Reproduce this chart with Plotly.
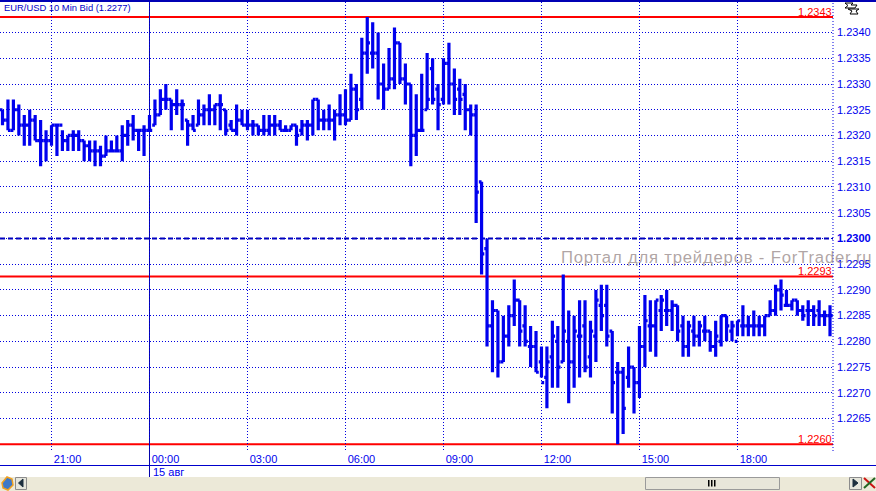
import plotly.graph_objects as go
from datetime import datetime, timedelta

BASE = 1.2300  # all bar values below are points (0.0001) relative to this price
START = datetime(2005, 8, 14, 19, 30)
STEP_MIN = 10

opens = [25,23,21,25,22,22,23,19,19,19,22,22,19,20,20,19,18,17,17,16,17,17,17,20,22,21,21,21,22,24,27,27,26,26,23,22,22,24,25,25,26,25,22,21,23,22,22,22,21,21,22,22,21,21,22,
         21,22,22,27,23,23,23,24,24,23,29,27,36,36,36,30,29,31,38,31,30,20,21,25,33,29,27,34,30,29,28,25,24,11,-2,
         -17,-14,-24,-19,-15,-12,-17,-21,-21,-24,-27,-23,-20,-24,-20,-24,-19,-17,-23,-19,-13,-13,-18,-26,-26,-27,-25,-28,-21,-17,-17,-14,-14,
         -14,-13,-17,-21,-18,-19,-18,-18,-21,-20,-15,-18,-20,-17,-17,-17,-17,-17,-15,-14,-10,-13,-13,-12,-14,-14,-14,-14,-15,-15]
highs = [25,27,27,26,24,25,24,23,21,22,22,21,20,21,21,19,19,19,18,20,19,20,22,23,24,21,22,24,27,29,30,27,29,27,23,24,27,26,28,26,28,25,23,26,25,25,23,22,24,24,24,23,22,22,22,
         23,23,27,27,25,26,25,28,29,32,30,39,43,42,40,34,37,41,38,34,30,28,32,36,35,30,35,38,33,31,30,26,26,11,0,
         -12,-14,-15,-13,-8,-12,-13,-17,-18,-21,-21,-16,-17,-7,-14,-15,-12,-12,-16,-10,-9,-9,-18,-24,-25,-21,-25,-17,-11,-12,-12,-11,-10,
         -12,-13,-15,-16,-15,-16,-15,-18,-16,-15,-15,-16,-16,-13,-15,-14,-15,-15,-12,-9,-8,-10,-12,-12,-13,-12,-13,-12,-14,-13]
lows = [22,21,21,20,18,18,19,14,15,18,16,17,17,17,17,15,15,14,14,16,17,17,15,18,19,17,16,21,22,24,25,21,24,21,18,21,22,22,22,22,21,20,21,20,22,21,20,20,20,20,20,21,21,21,18,
        20,19,20,21,21,21,19,22,22,23,23,25,32,33,27,25,29,29,30,26,14,16,21,25,26,21,26,26,24,24,21,20,3,-7,-21,
        -26,-27,-24,-21,-17,-21,-21,-25,-26,-27,-33,-29,-29,-24,-32,-29,-27,-26,-27,-24,-18,-21,-34,-40,-38,-29,-34,-31,-25,-22,-23,-18,-17,
        -18,-20,-23,-23,-21,-21,-20,-22,-23,-21,-20,-20,-19,-19,-19,-19,-19,-19,-15,-15,-14,-13,-14,-15,-16,-17,-17,-17,-17,-19]
closes = [23,21,25,22,22,23,19,19,19,22,22,19,20,20,19,18,17,17,16,17,17,17,20,22,21,21,21,21,24,27,27,26,26,26,22,21,24,25,25,26,26,21,21,23,22,22,22,21,21,22,22,21,21,22,20,
          22,22,27,23,23,23,24,24,23,29,25,36,38,36,30,29,31,38,31,30,20,21,21,27,27,26,34,30,27,27,25,24,9,-3,-17,
          -14,-24,-19,-15,-12,-18,-20,-21,-26,-28,-24,-19,-25,-18,-24,-18,-19,-25,-18,-12,-15,-19,-28,-26,-33,-25,-28,-21,-16,-17,-12,-12,-14,
          -13,-18,-21,-17,-19,-17,-18,-21,-19,-15,-17,-17,-16,-17,-17,-17,-17,-15,-14,-10,-11,-13,-12,-14,-15,-14,-15,-15,-15,-15]

y_ticks = [1.2340,1.2335,1.2330,1.2325,1.2320,1.2315,1.2310,1.2305,1.2300,1.2295,1.2290,1.2285,1.2280,1.2275,1.2270,1.2265]
y_labels = ["1.2340","1.2335","1.2330","1.2325","1.2320","1.2315","1.2310","1.2305","<b>1.2300</b>","1.2295","1.2290","1.2285","1.2280","1.2275","1.2270","1.2265"]
x_ticks = ["2005-08-14 21:00","2005-08-15 00:00","2005-08-15 03:00","2005-08-15 06:00","2005-08-15 09:00","2005-08-15 12:00","2005-08-15 15:00","2005-08-15 18:00"]
x_labels = ["21:00","00:00","03:00","06:00","09:00","12:00","15:00","18:00"]
levels = [(1.2343, "1.2343"), (1.22926, "1.2293"), (1.2260, "1.2260")]

W, H = 876, 491
L, R, T, B = 0, 43, 2, 40
FONT = "Liberation Sans"
BLUE = "#0000EE"
GRID = "#0000E0"
DOTS = "1px,2px"

times = [START + timedelta(minutes=STEP_MIN * i) for i in range(len(opens))]
px = lambda p: BASE + p / 10000

def xp(x):
    return (x - L) / (W - L - R)
def yp(y):
    return (H - B - y) / (H - T - B)

fig = go.Figure(go.Ohlc(
    x=times, open=[px(v) for v in opens], high=[px(v) for v in highs],
    low=[px(v) for v in lows], close=[px(v) for v in closes],
    tickwidth=0.5,
    increasing=dict(line=dict(color=BLUE, width=3.2)),
    decreasing=dict(line=dict(color=BLUE, width=3.2)),
    hoverinfo="skip", showlegend=False,
))

shapes = []
def rect(x0, y0, x1, y1, fill, line=None, lw=1):
    shapes.append(dict(type="rect", xref="paper", yref="paper", x0=xp(x0), x1=xp(x1), y0=yp(y0), y1=yp(y1),
                       fillcolor=fill, line=dict(color=line or fill, width=lw if line else 0), layer="above"))
def path(points, fill=None, line="#000000", lw=1):
    d = "M " + " L ".join(f"{xp(a):.5f},{yp(b):.5f}" for a, b in points) + (" Z" if fill else "")
    shapes.append(dict(type="path", xref="paper", yref="paper", path=d, fillcolor=fill or "rgba(0,0,0,0)",
                       line=dict(color=line, width=lw), layer="above"))

# price levels
for v, _ in levels:
    shapes.append(dict(type="line", xref="paper", yref="y", x0=0, x1=1, y0=v, y1=v,
                       line=dict(color="#FF0000", width=2), layer="below"))
shapes.append(dict(type="line", xref="paper", yref="y", x0=0, x1=1, y0=1.2300, y1=1.2300,
                   line=dict(color="#0000B4", width=2, dash="5px,3px"), layer="below"))
# day separator
shapes.append(dict(type="line", xref="x", yref="paper", x0="2005-08-15 00:00", x1="2005-08-15 00:00", y0=yp(477), y1=yp(0),
                   line=dict(color="#0000AA", width=1), layer="below"))
# right axis dotted rule
shapes.append(dict(type="line", xref="paper", yref="paper", x0=1, x1=1, y0=yp(451), y1=yp(2),
                   line=dict(color=GRID, width=1, dash=DOTS), layer="above"))
# frame rules
rect(0, 0, W, 2, "#0000B4")
shapes.append(dict(type="line", xref="paper", yref="paper", x0=xp(0), x1=xp(W), y0=yp(465.5), y1=yp(465.5),
                   line=dict(color="#0000CC", width=1), layer="above"))
# scrollbar chrome
rect(0, 477, W, H, "#ECE9D8")
rect(15.5, 477.5, 26.5, 489.5, "#E6E6DC", "#8C8C8C")
path([(23, 479), (23, 487), (18.5, 483)], fill="#1C2F3E", line="#1C2F3E")
rect(645.5, 477.5, 779.5, 489.5, "#E8E6DA", "#9A9A9A")
for xx in (708.5, 711.5, 714.5):
    rect(xx - 0.5, 480, xx + 1, 486.5, "#000000")
rect(849.5, 477.5, 861.5, 489.5, "#E6E6DC", "#8C8C8C")
path([(853, 479), (853, 487), (858, 483)], fill="#1C2F3E", line="#1C2F3E")
path([(864, 478), (875, 488)], line="#CC1111", lw=2)
path([(875, 478), (864, 488)], line="#226622", lw=2)
path([(2, 483), (7, 477), (12, 479), (13, 485), (8, 490), (3, 488)], fill="#3E78C8", line="#F0A020", lw=1.5)
# top right zoom glyph
path([(845, 3), (853, 3), (851, 5), (857, 5), (855, 8), (845, 8), (848, 5.5)], fill="#FFFFFF", line="#000000")
path([(848, 9), (859, 9), (856, 11), (858, 14), (850, 14), (852, 11)], fill="#FFFFFF", line="#000000")

annotations = [
    dict(text="EUR/USD 10 Min Bid (1.2277)", xref="paper", yref="paper", x=xp(2), y=yp(8), xanchor="left", yanchor="middle",
         showarrow=False, font=dict(family=FONT, size=9.4, color="#0000C8")),
    dict(text="15 авг", xref="x", yref="paper", x="2005-08-15 00:00", xshift=2, y=yp(471.5), xanchor="left", yanchor="middle",
         showarrow=False, font=dict(family=FONT, size=11, color=BLUE)),
    dict(text="Портал для трейдеров - ForTrader.ru", xref="paper", yref="paper", x=xp(573), y=yp(257), xanchor="left", yanchor="middle",
         showarrow=False, font=dict(family=FONT, size=16.7, color="rgba(150,135,135,0.75)")),
]
for v, lab in levels:
    annotations.append(dict(text=lab, xref="paper", yref="y", x=xp(834), y=v, yshift=5.5, xanchor="right", yanchor="middle",
                            showarrow=False, font=dict(family=FONT, size=11, color="#FF0000")))

fig.update_layout(
    width=W, height=H, autosize=False,
    margin=dict(l=L, r=R, t=T, b=B, pad=0),
    paper_bgcolor="#FFFFFF", plot_bgcolor="#FFFFFF",
    shapes=shapes, annotations=annotations, showlegend=False,
    xaxis=dict(type="date", range=["2005-08-14 19:25:24", "2005-08-15 20:55:30"], rangeslider=dict(visible=False),
               tickmode="array", tickvals=x_ticks, ticktext=x_labels, ticks="", showline=False, zeroline=False,
               showgrid=True, gridcolor=GRID, griddash=DOTS, gridwidth=1,
               tickfont=dict(family=FONT, size=11, color=BLUE), ticklabelshift=16),
    yaxis=dict(side="right", range=[1.22587, 1.234593],
               tickmode="array", tickvals=y_ticks, ticktext=y_labels, ticks="", showline=False, zeroline=False,
               showgrid=True, gridcolor=GRID, griddash=DOTS, gridwidth=1, ticklabelstandoff=3,
               tickfont=dict(family=FONT, size=11, color=BLUE)),
)
fig.write_html("out.html", config=dict(displayModeBar=False),
               post_script="document.body.style.margin='0';document.body.style.overflow='hidden';"
                           "document.querySelectorAll('.annotation-text').forEach(function(t){"
                           "if(t.textContent.indexOf('\u041f\u043e\u0440\u0442\u0430\u043b')===0){t.style.letterSpacing='0.8px';}});")
